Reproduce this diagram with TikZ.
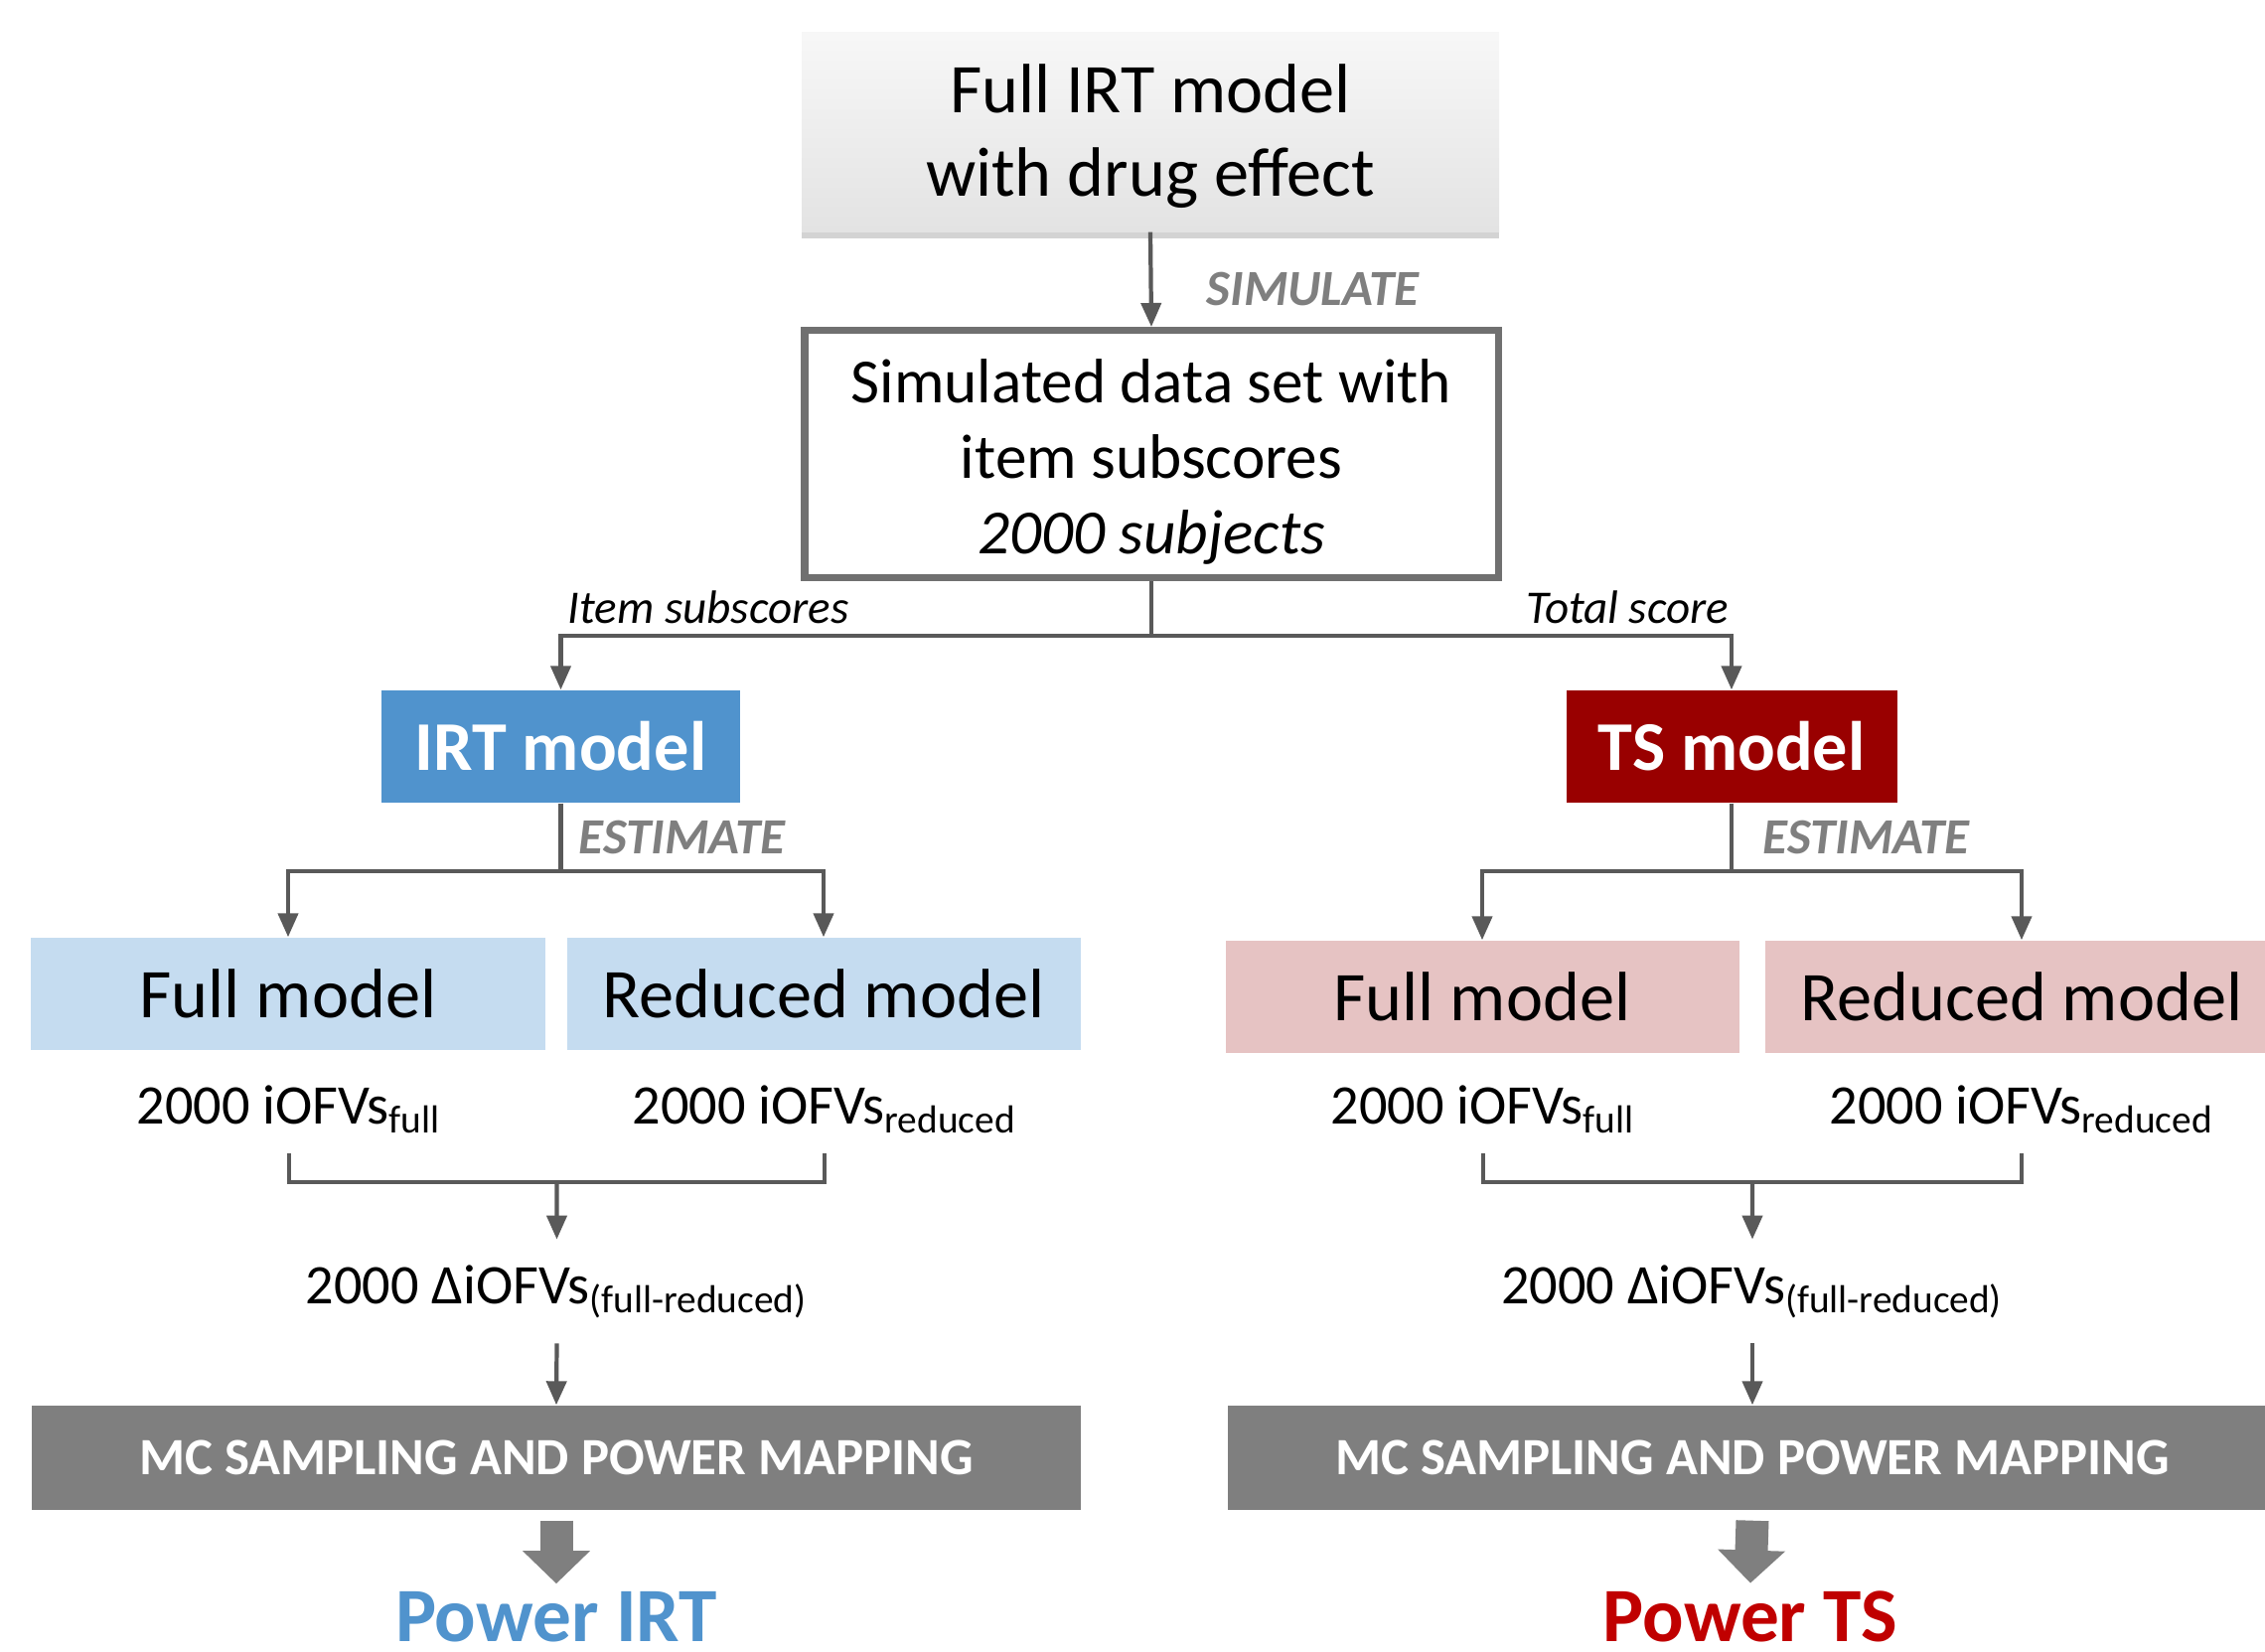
\documentclass[tikz,border=0pt]{standalone}
\usepackage{fontspec}
\setmainfont{Carlito}
\usepackage{xcolor}
\usepackage{tikz}
\usetikzlibrary{arrows.meta,shadows,calc}

\definecolor{irtblue}{RGB}{80,147,205}
\definecolor{irtlight}{RGB}{197,220,240}
\definecolor{tsred}{RGB}{153,0,0}
\definecolor{tslight}{RGB}{230,195,195}
\definecolor{powred}{RGB}{192,0,0}
\definecolor{linegray}{RGB}{89,89,89}
\definecolor{boxgray}{RGB}{112,112,112}
\definecolor{mcgray}{RGB}{127,127,127}

\begin{document}
\begin{tikzpicture}[
  line/.style={draw=linegray, line width=1.2pt},
  arr/.style={line, -{Triangle[width=0.2cm,length=0.24cm]}},
  bigarr/.style={draw=mcgray, line width=0.33cm, -{Triangle[width=0.66cm,length=0.33cm]}},
  topbox/.style={minimum width=7.02cm, minimum height=2.01cm, top color=gray!6, bottom color=gray!22,
    drop shadow={shadow xshift=0pt, shadow yshift=-0.07cm, opacity=0.35},
    align=center, font=\fontsize{20}{23.8}\selectfont},
  simbox/.style={draw=boxgray, line width=2pt, minimum width=6.98cm, minimum height=2.49cm,
    align=center, font=\fontsize{18}{21.5}\selectfont},
  actlabel/.style={anchor=west, inner sep=0, text=mcgray, font=\fontsize{14.5}{17}\selectfont\bfseries\itshape},
  branch/.style={inner sep=0, font=\fontsize{13.4}{16}\selectfont\itshape},
  model/.style={minimum height=1.13cm, inner sep=0, text=white, font=\fontsize{20}{24}\selectfont\bfseries},
  sub/.style={minimum width=5.17cm, minimum height=1.13cm, inner sep=0, font=\fontsize{20}{24}\selectfont},
  ofv/.style={anchor=base, inner xsep=0, inner ysep=0.2cm, font=\fontsize{16}{19}\selectfont},
  mc/.style={fill=mcgray, minimum width=10.56cm, minimum height=1.05cm, inner sep=0, text=white,
    font=\fontsize{15}{18}\selectfont\bfseries},
  power/.style={anchor=base, inner sep=0.07cm, font=\fontsize{22}{26}\selectfont\bfseries}
]
\path[use as bounding box] (0,0) rectangle (22.80,-16.62);
\clip (0,0) rectangle (22.80,-16.62);

\node[topbox] (fullirt) at (11.58,-1.325) {\rule{0pt}{16.5pt}Full IRT model\\with drug effect};
\node[simbox] (simdata) at (11.59,-4.57) {\rule{0pt}{17pt}Simulated data set with\\item subscores\\\textit{2000 subjects}};
\node[actlabel] (simlbl) at (12.14,-2.91) {SIMULATE};
\draw[arr] (fullirt.south) -- (simdata.north);

\node[branch, anchor=west] (itemlbl) at (5.71,-6.11) {Item subscores};
\node[branch, anchor=east] (totlbl) at (17.41,-6.11) {Total score};
\node[model, fill=irtblue, minimum width=3.61cm] (irt) at (5.645,-7.515) {IRT model};
\node[model, fill=tsred, minimum width=3.33cm] (ts) at (17.43,-7.515) {TS model};

\coordinate (split) at (11.59,-6.40);
\draw[line] (simdata.south) -- (split);
\draw[arr] (split) -| (irt.north);
\draw[arr] (split) -| (ts.north);

% IRT branch
\node[actlabel] (estirt) at (5.82,-8.43) {ESTIMATE};
\node[sub, fill=irtlight] (irtfull) at (2.90,-10.005) {Full model};
\node[sub, fill=irtlight] (irtred) at (8.29,-10.005) {Reduced model};
\coordinate (irtsplit) at (5.645,-8.77);
\draw[line] (irt.south) -- (irtsplit);
\draw[arr] (irtsplit) -| (irtfull.north);
\draw[arr] (irtsplit) -| (irtred.north);

\node[ofv] (irtofvf) at (2.91,-11.31) {2000 iOFVs\textsubscript{full}};
\node[ofv] (irtofvr) at (8.30,-11.31) {2000 iOFVs\textsubscript{reduced}};
\draw[line] (irtofvf.south) -- ++(0,-0.29) -| (irtofvr.south);
\coordinate (irtjoin) at ($(irtofvf.south)!0.5!(irtofvr.south)+(0,-0.29)$);

\node[ofv, inner ysep=0.25cm] (irtdelta) at (5.605,-13.12) {2000 ΔiOFVs\textsubscript{(full-reduced)}};
\draw[arr] (irtjoin) -- (irtdelta.north);
\node[mc] (irtmc) at (5.60,-14.675) {MC SAMPLING AND POWER MAPPING};
\draw[arr] (irtdelta.south) -- (irtmc.north);
\node[power, text=irtblue] (irtpow) at (5.60,-16.52) {Power IRT};
\draw[bigarr] ([yshift=-0.1cm]irtmc.south) -- (irtpow.north);

% TS branch
\node[actlabel] (estts) at (17.74,-8.43) {ESTIMATE};
\node[sub, fill=tslight] (tsfull) at (14.92,-10.035) {Full model};
\node[sub, fill=tslight] (tsred) at (20.35,-10.035) {Reduced model};
\coordinate (tssplit) at (17.43,-8.77);
\draw[line] (ts.south) -- (tssplit);
\draw[arr] (tssplit) -| (tsfull.north);
\draw[arr] (tssplit) -| (tsred.north);

\node[ofv] (tsofvf) at (14.93,-11.31) {2000 iOFVs\textsubscript{full}};
\node[ofv] (tsofvr) at (20.35,-11.31) {2000 iOFVs\textsubscript{reduced}};
\draw[line] (tsofvf.south) -- ++(0,-0.29) -| (tsofvr.south);
\coordinate (tsjoin) at ($(tsofvf.south)!0.5!(tsofvr.south)+(0,-0.29)$);

\node[ofv, inner ysep=0.25cm] (tsdelta) at (17.64,-13.12) {2000 ΔiOFVs\textsubscript{(full-reduced)}};
\draw[arr] (tsjoin) -- (tsdelta.north);
\node[mc] (tsmc) at (17.64,-14.675) {MC SAMPLING AND POWER MAPPING};
\draw[arr] (tsdelta.south) -- (tsmc.north);
\node[power, text=powred] (tspow) at (17.62,-16.52) {Power TS};
\draw[bigarr] ([yshift=-0.1cm]tsmc.south) -- (tspow.north);
\end{tikzpicture}
\end{document}
